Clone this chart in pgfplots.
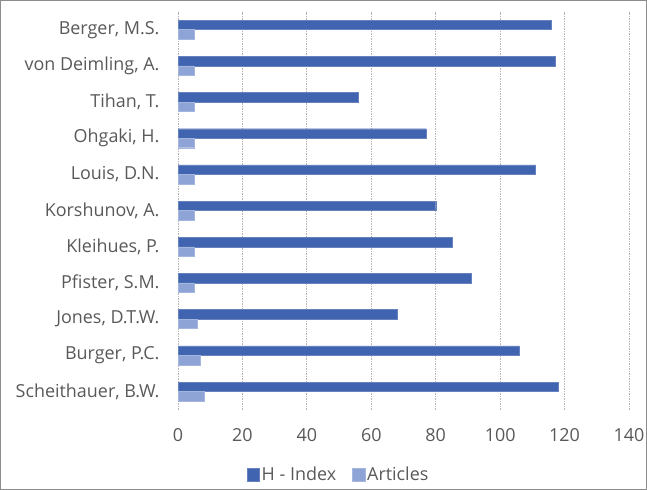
\documentclass[border=0pt]{standalone}
\usepackage{pgfplots}
\pgfplotsset{compat=1.18}
\usepackage{fontspec}
\setmainfont{Open Sans}
\definecolor{hidx}{RGB}{64,100,175}
\definecolor{art}{RGB}{143,164,214}
\definecolor{txt}{RGB}{89,89,89}
\definecolor{grd}{RGB}{180,180,180}
\begin{document}
\begin{tikzpicture}
\path[use as bounding box] (0bp,0bp) rectangle (647bp,490bp);
\draw[line width=0.8bp, color=black!45] (0.5bp,0.5bp) rectangle (646.5bp,489.5bp);
\begin{axis}[
  at={(178bp,80.4bp)}, anchor=south west,
  scale only axis, width=451bp, height=398bp,
  xbar, bar width=9.5bp,
  xmin=0, xmax=140, xtick={0,20,...,140},
  ymin=-0.5, ymax=10.5,
  ytick={0,...,10},
  yticklabels={{Scheithauer, B.W.},{Burger, P.C.},{Jones, D.T.W.},{Pfister, S.M.},{Kleihues, P.},{Korshunov, A.},{Louis, D.N.},{Ohgaki, H.},{Tihan, T.},{von Deimling, A.},{Berger, M.S.}},
  axis line style={draw=none},
  major tick length=0pt,
  xmajorgrids, grid style={grd, dash pattern=on 1.5bp off 1bp, line width=0.8bp},
  tick label style={font=\fontsize{18}{20}\selectfont, text=txt},
  yticklabel style={xshift=-15bp},
  xticklabel style={anchor=base, yshift=-32bp},
  /pgf/number format/assume math mode=true,
  legend columns=2,
  legend style={at={(0.356,-0.164)}, anchor=center, draw=none, fill=none,
    font=\fontsize{18}{20}\selectfont, text=txt, inner sep=0pt,
    /tikz/every odd column/.append style={column sep=0bp},
    /tikz/every even column/.append style={column sep=14bp},
    nodes={inner sep=2bp}},
  legend image code/.code={\fill[#1] (0bp,-6.3bp) rectangle (12.6bp,6.3bp);},
]
\addplot[fill=hidx, draw=hidx!80!white, bar shift=4.75bp] coordinates {
(118,0) (106,1) (68,2) (91,3) (85,4) (80,5) (111,6) (77,7) (56,8) (117,9) (116,10)};
\addlegendentry{H - Index}
\addplot[fill=art, draw=art!80!white, bar shift=-4.75bp] coordinates {
(8,0) (7,1) (6,2) (5,3) (5,4) (5,5) (5,6) (5,7) (5,8) (5,9) (5,10)};
\addlegendentry{Articles}
\end{axis}
\end{tikzpicture}
\end{document}
